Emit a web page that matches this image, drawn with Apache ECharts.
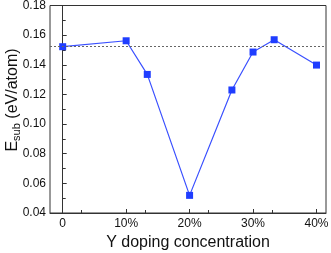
<!DOCTYPE html>
<html><head><meta charset="utf-8">
<script src="https://cdn.jsdelivr.net/npm/echarts@6/dist/echarts.min.js"></script>
<style>html,body{margin:0;padding:0;background:#fff}#c{width:331px;height:253px}</style>
</head><body><div id="c"></div>
<script>
var concentration = [0, 10, 13.33, 20, 26.67, 30, 33.33, 40];
var esub = [0.1522, 0.1562, 0.1335, 0.0519, 0.1230, 0.1486, 0.1569, 0.1398];
var referenceLevel = 0.1522;
var xTicks = [0, 10, 20, 30, 40];
var yTicks = [0.04, 0.06, 0.08, 0.10, 0.12, 0.14, 0.16, 0.18];

var font = '"Liberation Sans", Arial, sans-serif';
var chart = echarts.init(document.getElementById('c'), null, {renderer: 'canvas'});
chart.setOption({
  animation: false,
  grid: {left: 50, right: 5, top: 5.5, bottom: 40, show: true, borderColor: '#333', borderWidth: 1,
    containLabel: false, outerBoundsMode: 'none'},
  graphic: [{
    type: 'text', x: 13, y: 100, rotation: Math.PI / 2,
    style: {
      text: '{e|E}{s|sub}{e| (eV/atom)}', align: 'center', verticalAlign: 'middle',
      fill: '#111', font: '16px ' + font,
      rich: {e: {fontFamily: font, fontSize: 16, fill: '#111'},
             s: {fontFamily: font, fontSize: 11, fill: '#111', padding: [7, 0, 0, 0]}}
    }
  }],
  xAxis: {
    type: 'value', min: -2, max: 41.5, interval: 10,
    axisLine: {lineStyle: {color: '#333', width: 1}},
    axisTick: {inside: true, length: 4, lineStyle: {color: '#333'}, customValues: xTicks},
    minorTick: {show: true, splitNumber: 2, length: 3, lineStyle: {color: '#333'}},
    axisLabel: {fontFamily: font, fontSize: 12, color: '#111', margin: 5, customValues: xTicks,
      formatter: function(v){ return v === 0 ? '0' : v + '%'; }},
    splitLine: {show: false},
    name: 'Y doping concentration', nameLocation: 'middle', nameGap: 22,
    nameTextStyle: {fontFamily: font, fontSize: 16, color: '#111'}
  },
  yAxis: {
    type: 'value', min: 0.04, max: 0.18, interval: 0.02,
    axisLine: {show: true, lineStyle: {color: '#333', width: 1}},
    axisTick: {show: true, inside: true, length: 4, lineStyle: {color: '#333'}},
    minorTick: {show: true, splitNumber: 2, length: 3, lineStyle: {color: '#333'}},
    axisLabel: {fontFamily: font, fontSize: 12, color: '#111', margin: 4,
      formatter: function(v){ return v.toFixed(2); }},
    splitLine: {show: false}
  },
  series: [{
    type: 'line',
    data: concentration.map(function(x, i){ return [x, esub[i]]; }),
    symbol: 'rect', symbolSize: 7,
    itemStyle: {color: '#1f3dff'},
    lineStyle: {color: '#3a50ff', width: 1.2},
    markLine: {
      silent: true, symbol: 'none', label: {show: false}, precision: 4,
      lineStyle: {color: '#666', type: [2, 2], width: 1},
      data: [{yAxis: referenceLevel}]
    }
  }]
});
</script></body></html>
